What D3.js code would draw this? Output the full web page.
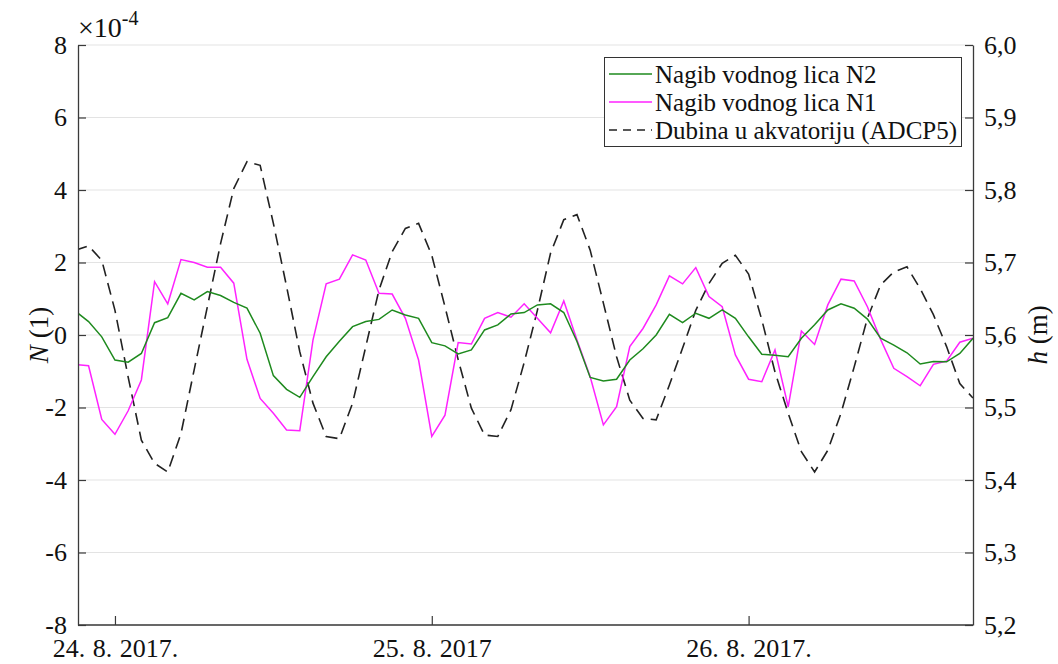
<!DOCTYPE html>
<html>
<head>
<meta charset="utf-8">
<script src="https://cdn.jsdelivr.net/npm/d3@7"></script>
<style>
  html, body { margin: 0; padding: 0; background: #fff; }
  svg { display: block; font-family: "Liberation Serif", "Times New Roman", serif; }
</style>
</head>
<body>
<svg id="chart" width="1058" height="664"></svg>
<script>
// ---- data (hourly, hours relative to 24.8.2017 00:00) ----
const startHour = -3;
const n2Values = [0.66,0.37,-0.05,-0.69,-0.75,-0.51,0.34,0.48,1.15,0.97,1.20,1.09,0.90,0.74,0.05,-1.12,-1.50,-1.72,
  -1.15,-0.60,-0.17,0.23,0.37,0.43,0.69,0.55,0.46,-0.21,-0.30,-0.52,-0.41,0.14,0.28,0.58,0.62,0.83,0.86,0.62,
  -0.18,-1.17,-1.27,-1.22,-0.69,-0.38,0.00,0.57,0.34,0.60,0.46,0.69,0.46,-0.05,-0.53,-0.56,-0.60,-0.09,0.28,
  0.69,0.86,0.74,0.44,-0.09,-0.28,-0.49,-0.80,-0.73,-0.74,-0.51,-0.09];
const n1Values = [-0.81,-0.85,-2.33,-2.74,-2.09,-1.24,1.47,0.86,2.08,2.00,1.87,1.87,1.43,-0.67,-1.75,-2.16,-2.62,-2.64,
  -0.14,1.41,1.54,2.21,2.07,1.15,1.13,0.46,-0.69,-2.80,-2.21,-0.21,-0.25,0.46,0.62,0.49,0.86,0.46,0.06,0.94,
  -0.14,-1.15,-2.48,-1.98,-0.32,0.18,0.83,1.63,1.41,1.86,1.06,0.78,-0.55,-1.22,-1.29,-0.41,-1.98,0.11,-0.26,
  0.83,1.54,1.49,0.78,-0.12,-0.92,-1.15,-1.40,-0.81,-0.72,-0.20,-0.09];
const depthValues = [5.717,5.723,5.703,5.634,5.542,5.455,5.423,5.411,5.464,5.552,5.639,5.726,5.802,5.839,5.834,5.754,
  5.667,5.577,5.506,5.460,5.457,5.506,5.584,5.662,5.715,5.747,5.754,5.710,5.639,5.566,5.499,5.462,5.460,5.497,
  5.562,5.634,5.713,5.759,5.766,5.717,5.644,5.570,5.510,5.485,5.483,5.531,5.582,5.634,5.671,5.699,5.710,5.684,
  5.621,5.549,5.492,5.439,5.411,5.441,5.492,5.556,5.623,5.669,5.687,5.694,5.664,5.628,5.584,5.533,5.513];
const xTickDates = [new Date(2017,7,24), new Date(2017,7,25), new Date(2017,7,26)];
const xTickLabels = ["24. 8. 2017.", "25. 8. 2017", "26. 8. 2017."];
const leftTicks = [-8,-6,-4,-2,0,2,4,6,8];
const rightTicks = [5.2,5.3,5.4,5.5,5.6,5.7,5.8,5.9,6.0];
const legendLabels = ["Nagib vodnog lica N2", "Nagib vodnog lica N1", "Dubina u akvatoriju (ADCP5)"];

// ---- layout ----
const L = 78, R = 973, T = 45, B = 625;
const svg = d3.select("#chart");
const times = n1Values.map((_, i) => new Date(2017, 7, 24, startHour + i));

const x = d3.scaleTime()
  .domain([new Date(2017,7,23,21,12), new Date(2017,7,26,17,0)])
  .range([L, R]);
const yL = d3.scaleLinear().domain([-8, 8]).range([B, T]);
const yR = d3.scaleLinear().domain([5.2, 6.0]).range([B, T]);

// grid
svg.append("g").selectAll("line").data(leftTicks).join("line")
  .attr("x1", L).attr("x2", R)
  .attr("y1", d => yL(d)).attr("y2", d => yL(d))
  .attr("stroke", "#e3e3e3").attr("stroke-width", 1.2);

// clip
svg.append("clipPath").attr("id", "clip").append("rect")
  .attr("x", L).attr("y", T).attr("width", R - L).attr("height", B - T);

const plot = svg.append("g").attr("clip-path", "url(#clip)");
const lineL = d3.line().x((d, i) => x(times[i])).y(d => yL(d));
const lineR = d3.line().x((d, i) => x(times[i])).y(d => yR(d));

plot.append("path").datum(depthValues).attr("d", lineR)
  .attr("fill", "none").attr("stroke", "#222").attr("stroke-width", 1.6)
  .attr("stroke-dasharray", "12,7");
plot.append("path").datum(n1Values).attr("d", lineL)
  .attr("fill", "none").attr("stroke", "#ff22ff").attr("stroke-width", 1.5);
plot.append("path").datum(n2Values).attr("d", lineL)
  .attr("fill", "none").attr("stroke", "#1e8a1e").attr("stroke-width", 1.5);

// axes
const axisColor = "#3a3a3a";
const fs = 26;
const gL = svg.append("g").attr("transform", `translate(${L},0)`)
  .call(d3.axisLeft(yL).tickValues(leftTicks).tickSizeInner(-8).tickSizeOuter(0).tickPadding(11)
    .tickFormat(d => String(d)));
const gR = svg.append("g").attr("transform", `translate(${R},0)`)
  .call(d3.axisRight(yR).tickValues(rightTicks).tickSizeInner(-8).tickSizeOuter(0).tickPadding(11)
    .tickFormat(d => d3.format(".1f")(d).replace(".", ",")));
const gB = svg.append("g").attr("transform", `translate(0,${B})`)
  .call(d3.axisBottom(x).tickValues(xTickDates).tickSizeInner(-9).tickSizeOuter(0).tickPadding(14)
    .tickFormat((d, i) => xTickLabels[i]));

[gL, gR, gB].forEach(g => {
  g.select(".domain").attr("stroke", axisColor).attr("stroke-width", 1.3);
  g.selectAll(".tick line").attr("stroke", axisColor).attr("stroke-width", 1.2);
  g.selectAll(".tick text").attr("fill", "#111").style("font-size", fs + "px")
    .style("font-family", '"Liberation Serif", serif');
});
gB.selectAll(".tick text").attr("dy", "0.71em").attr("word-spacing", "1px");
gB.select(".domain").attr("d", `M${L},0H${R}`);

// exponent label
const ex = svg.append("text").attr("x", 78).attr("y", 37).attr("fill", "#111")
  .style("font-size", "28px");
ex.append("tspan").text("×10");
ex.append("tspan").attr("dy", -12).style("font-size", "20px").text("-4");

// axis titles
const tl = svg.append("text").attr("transform", `translate(48,${(T + B) / 2}) rotate(-90)`)
  .attr("text-anchor", "middle").attr("fill", "#111").style("font-size", "27px");
tl.append("tspan").style("font-style", "italic").text("N");
tl.append("tspan").text(" (1)");
const tr = svg.append("text").attr("transform", `translate(1047,${(T + B) / 2}) rotate(-90)`)
  .attr("text-anchor", "middle").attr("fill", "#111").style("font-size", "27px");
tr.append("tspan").style("font-style", "italic").text("h");
tr.append("tspan").text(" (m)");

// legend
const lg = svg.append("g");
lg.append("rect").attr("x", 604.5).attr("y", 57.5).attr("width", 357).attr("height", 89)
  .attr("fill", "#fff").attr("stroke", "#333").attr("stroke-width", 1);
const legStyles = [
  {c: "#1e8a1e", dash: null},
  {c: "#ff22ff", dash: null},
  {c: "#222", dash: "8,6"}
];
legendLabels.forEach((lab, i) => {
  const cy = 74 + i * 28;
  lg.append("line").attr("x1", 609).attr("x2", 652).attr("y1", cy).attr("y2", cy)
    .attr("stroke", legStyles[i].c).attr("stroke-width", 1.5)
    .attr("stroke-dasharray", legStyles[i].dash);
  lg.append("text").attr("x", 655).attr("y", cy).attr("dy", "0.35em")
    .attr("fill", "#111").style("font-size", "25px").text(lab);
});
</script>
</body>
</html>
